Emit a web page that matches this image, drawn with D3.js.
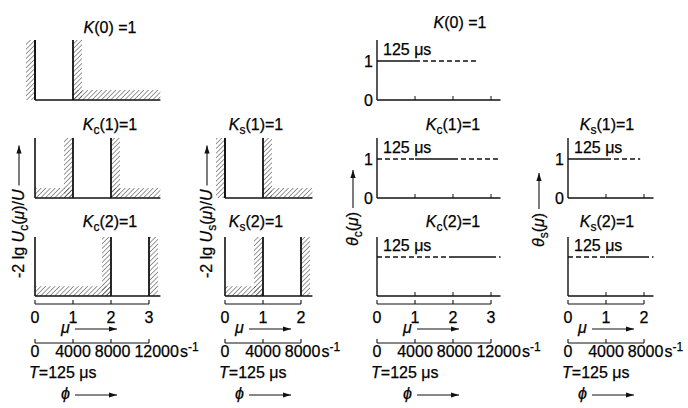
<!DOCTYPE html>
<html>
<head>
<meta charset="utf-8">
<script src="https://cdn.jsdelivr.net/npm/d3@7"></script>
<style>
body { margin: 0; background: #fff; }
text { font-family: "Liberation Sans", Arial, sans-serif; font-size: 16px; fill: #000; stroke: #000; stroke-width: 0.25px; }
</style>
</head>
<body>
<div id="chart"></div>
<script>
// tick values and labels
const muTicksC = [0, 1, 2, 3];
const muTicksS = [0, 1, 2];
const phiLabelsC = ["0", "4000", "8000", "12000"];
const phiLabelsS = ["0", "4000", "8000"];

// attenuation tolerance schemes: walls [mu, hatch side], floors [from, to]
const ucTitles = [["", "0"], ["c", "1"], ["c", "2"]];
const ucWalls = [[[0, -1], [1, 1]], [[1, -1], [2, 1]], [[2, -1], [3, 1]]];
const ucFloors = [[[1, 3.3]], [[0, 1], [2, 3.3]], [[0, 2]]];
const usTitles = [["s", "1"], ["s", "2"]];
const usWalls = [[[0, -1], [1, 1]], [[1, -1], [2, 1]]];
const usFloors = [[[1, 2.3]], [[0, 1]]];
const floorLevel = 1;

// group delay: one solid period, dashed continuation
const delayLevel = 1;
const tcTitles = [["", "0"], ["c", "1"], ["c", "2"]];
const tcSolid = [[0, 1], [1, 2], [2, 3]];
const tcDashed = [[[1, 2.65]], [[0, 1], [2, 3.25]], [[0, 2], [3, 3.25]]];
const tsTitles = [["s", "1"], ["s", "2"]];
const tsSolid = [[0, 1], [1, 2]];
const tsDashed = [[[1, 1.9]], [[0, 1], [2, 2.25]]];

const W = 688, H = 408;
const rowTop = [40, 138, 237];
const rowBot = [100, 198, 296];
const titleY = [33, 130, 227];

const svg = d3.select("#chart").append("svg")
    .attr("width", W)
    .attr("height", H);

const defs = svg.append("defs");
defs.append("pattern")
    .attr("id", "hatch")
    .attr("patternUnits", "userSpaceOnUse")
    .attr("width", 3.3)
    .attr("height", 3.3)
    .attr("patternTransform", "rotate(45)")
    .append("line")
    .attr("x1", 0).attr("y1", 0).attr("x2", 0).attr("y2", 3.3)
    .attr("stroke", "#333")
    .attr("stroke-width", 1);

const xUc = d3.scaleLinear().domain([0, 3]).range([35, 149]);
const xUs = d3.scaleLinear().domain([0, 2]).range([225, 301]);
const xTc = d3.scaleLinear().domain([0, 3]).range([377, 491]);
const xTs = d3.scaleLinear().domain([0, 2]).range([568, 644]);

function line(g, x1, y1, x2, y2, w) {
    return g.append("line")
        .attr("x1", x1).attr("y1", y1).attr("x2", x2).attr("y2", y2)
        .attr("stroke", "#111")
        .attr("stroke-width", w || 1.3);
}

function arrow(g, x1, y1, x2, y2) {
    line(g, x1, y1, x2, y2, 1.1);
    const a = Math.atan2(y2 - y1, x2 - x1);
    const L = 8, s = 2.6;
    const p = [
        [x2, y2],
        [x2 - L * Math.cos(a) + s * Math.sin(a), y2 - L * Math.sin(a) - s * Math.cos(a)],
        [x2 - L * Math.cos(a) - s * Math.sin(a), y2 - L * Math.sin(a) + s * Math.cos(a)]
    ];
    g.append("path").attr("d", "M" + p.join("L") + "Z").attr("fill", "#111");
}

function title(g, cx, y, t) {
    const txt = g.append("text").attr("x", cx).attr("y", y).attr("text-anchor", "middle");
    txt.append("tspan").attr("font-style", "italic").text("K");
    if (t[0]) txt.append("tspan").attr("font-size", "12px").attr("dy", 4).text(t[0]);
    txt.append("tspan").attr("dy", t[0] ? -4 : 0).text("(" + t[1] + (t[0] ? ")=1" : ") =1"));
}

// attenuation panel
function attPanel(x, row, t, walls, floors, xmax, cx) {
    const g = svg.append("g");
    const y = d3.scaleLinear().domain([0, 6]).range([rowBot[row], rowTop[row]]);
    floors.forEach(f => {
        g.append("rect")
            .attr("x", x(f[0])).attr("width", x(f[1]) - x(f[0]))
            .attr("y", y(floorLevel)).attr("height", y(0) - y(floorLevel))
            .attr("fill", "url(#hatch)");
    });
    walls.forEach(w => {
        const x0 = w[1] < 0 ? x(w[0]) - 9 : x(w[0]);
        g.append("rect")
            .attr("x", x0).attr("width", 9)
            .attr("y", y(6)).attr("height", y(0) - y(6))
            .attr("fill", "url(#hatch)");
        line(g, x(w[0]), y(6), x(w[0]), y(0), 1.8);
    });
    line(g, x(0), y(6), x(0), y(0), 1.6);
    line(g, x(0), y(0), x(xmax), y(0), 1.6);
    title(g, cx, titleY[row], t);
}

// group delay panel
function delayPanel(x, row, t, solid, dashed, xmax, ticks, cx, yLabels) {
    const g = svg.append("g");
    const y = d3.scaleLinear().domain([0, 1]).range([rowBot[row], rowBot[row] - 39]);
    line(g, x(0), rowTop[row], x(0), y(0), 1.4);
    line(g, x(0), y(0), x(xmax), y(0), 1.4);
    ticks.filter(d => d > 0).forEach(d => line(g, x(d), y(0), x(d), y(0) - 4, 1));
    line(g, x(solid[0]), y(delayLevel), x(solid[1]), y(delayLevel), 1.4);
    dashed.forEach(d => {
        line(g, x(d[0]), y(delayLevel), x(d[1]), y(delayLevel), 1.4)
            .attr("stroke-dasharray", "5,3");
    });
    g.append("text").attr("x", x(0) + 6).attr("y", y(delayLevel) - 6).text("125 μs");
    if (yLabels) {
        g.append("text").attr("x", x(0) - 4).attr("y", y(1)).attr("dy", "0.35em")
            .attr("text-anchor", "end").text("1");
        g.append("text").attr("x", x(0) - 4).attr("y", y(0)).attr("dy", "0.35em")
            .attr("text-anchor", "end").text("0");
    }
    title(g, cx, row === 0 ? 28 : titleY[row], t);
}

// bracket axes below each column
function bottomAxes(x, ticks, labels, narrow) {
    const g = svg.append("g");
    const x0 = x(ticks[0]), x1 = x(ticks[ticks.length - 1]);
    [304, 343].forEach(yy => {
        line(g, x0, yy, x1, yy, 1.1);
        ticks.forEach(d => line(g, x(d), yy, x(d), yy - 4, 1.1));
    });
    ticks.forEach(d => {
        g.append("text").attr("x", x(d)).attr("y", 323)
            .attr("text-anchor", "middle").text(d);
    });
    // frequency labels centred on ticks, pushed right when they would touch
    let prevEnd = -1e9;
    labels.forEach((l, i) => {
        const t = g.append("text").attr("y", 357).text(l);
        const w = t.node().getComputedTextLength();
        const left = Math.max(x(ticks[i]) - w / 2, prevEnd + 4);
        t.attr("x", left);
        prevEnd = left + w;
        if (i === labels.length - 1) {
            const s = g.append("text").attr("x", prevEnd + 1).attr("y", 357);
            s.append("tspan").text("s");
            s.append("tspan").attr("font-size", "12px").attr("dy", -6).text("-1");
        }
    });
    const off = narrow ? 10 : 26;
    g.append("text").attr("x", x0 + off).attr("y", 333).attr("font-style", "italic").text("μ");
    arrow(g, x0 + off + 14, 329, x0 + off + 56, 329);
    const tt = g.append("text").attr("x", x0 - 6).attr("y", 378);
    tt.append("tspan").attr("font-style", "italic").text("T");
    tt.append("tspan").text("=125 μs");
    g.append("text").attr("x", x0 + off).attr("y", 399).attr("font-style", "italic").text("ϕ");
    arrow(g, x0 + off + 14, 395, x0 + off + 56, 395);
}

// rotated axis titles with arrow
function yLabel(bx, by, parts, arrowLen) {
    const g = svg.append("g").attr("transform", "translate(" + bx + "," + by + ") rotate(-90)");
    const t = g.append("text").attr("x", 0).attr("y", 0);
    parts.forEach(p => {
        const s = t.append("tspan").text(p[0]);
        if (p[1] === "i") s.attr("font-style", "italic");
        if (p[1] === "sub") s.attr("font-size", "12px").attr("dy", 4);
        if (p[1] === "up") s.attr("dy", -4);
    });
    const len = t.node().getComputedTextLength();
    arrow(g, len + 4, -5, len + 4 + arrowLen, -5);
}

ucTitles.forEach((t, i) => attPanel(xUc, i, t, ucWalls[i], ucFloors[i], 3.3, 110));
usTitles.forEach((t, i) => attPanel(xUs, i + 1, t, usWalls[i], usFloors[i], 2.3, 256));
tcTitles.forEach((t, i) => delayPanel(xTc, i, t, tcSolid[i], tcDashed[i], 3.25, muTicksC,
    i === 0 ? 460 : 453, i < 2));
tsTitles.forEach((t, i) => delayPanel(xTs, i + 1, t, tsSolid[i], tsDashed[i], 2.25, muTicksS,
    607, i === 0));

bottomAxes(xUc, muTicksC, phiLabelsC, false);
bottomAxes(xUs, muTicksS, phiLabelsS, true);
bottomAxes(xTc, muTicksC, phiLabelsC, false);
bottomAxes(xTs, muTicksS, phiLabelsS, true);

yLabel(24, 278, [["-2 lg "], ["U", "i"], ["c", "sub"], ["(", "up"], ["μ", "i"], [")/"], ["U", "i"]], 40);
yLabel(212, 278, [["-2 lg "], ["U", "i"], ["s", "sub"], ["(", "up"], ["μ", "i"], [")/"], ["U", "i"]], 40);
yLabel(358, 246, [["θ", "i"], ["c", "sub"], ["(", "up"], ["μ", "i"], [")"]], 38);
yLabel(544, 247, [["θ", "i"], ["s", "sub"], ["(", "up"], ["μ", "i"], [")"]], 36);
</script>
</body>
</html>
